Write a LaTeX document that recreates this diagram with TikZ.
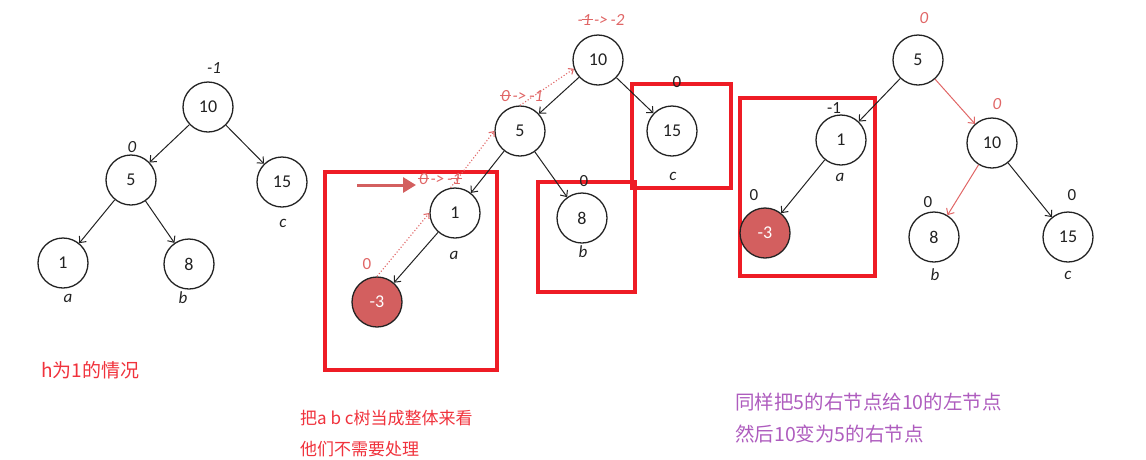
\documentclass[tikz,border=0pt]{standalone}
\usepackage{fontspec}
\setmainfont{Carlito}
\newfontfamily\cjk{Noto Sans CJK SC}
\usetikzlibrary{arrows.meta}
\definecolor{boxred}{HTML}{EE1C25}
\definecolor{lblred}{HTML}{E06666}
\definecolor{fillred}{HTML}{D35F5F}
\definecolor{txtred}{HTML}{F0323C}
\definecolor{purp}{HTML}{AE5CBE}
\definecolor{edge}{HTML}{222222}
\newcommand\strk[1]{\ooalign{#1\cr\hidewidth\rule[0.3em]{0.65em}{0.06em}\hidewidth\cr}}
\tikzset{
  tn/.style={circle,draw=edge,line width=1.3pt,minimum size=50pt,inner sep=0pt,font=\fontsize{18}{20}\selectfont,text=edge},
  hot/.style={tn,fill=fillred,text=white},
  ed/.style={draw=edge,line width=1pt,-{Straight Barb[length=5pt,width=9pt]}},
  edr/.style={draw=lblred,line width=1pt,-{Straight Barb[length=5pt,width=9pt]}},
  dotarr/.style={draw=lblred,line width=1.1pt,dotted,-{Straight Barb[length=4pt,width=7pt]}},
  lbl/.style={font=\fontsize{17}{19}\selectfont,text=edge,inner sep=0pt},
  ilbl/.style={font=\fontsize{17}{19}\selectfont\itshape,text=edge,inner sep=0pt},
  rlbl/.style={font=\fontsize{17}{19}\selectfont\itshape,text=lblred,inner sep=0pt},
  rbox/.style={draw=boxred,line width=3.5pt},
  cn/.style={font=\cjk\fontsize{17}{19}\selectfont,inner sep=0pt,anchor=west},
}
\begin{document}
\begin{tikzpicture}[x=1pt,y=-1pt]
\useasboundingbox (0,0) rectangle (1146,459);
% ---------- tree 1 ----------
\node[tn] (a10) at (208,107) {10};
\node[tn] (a5) at (131,180) {5};
\node[tn] (a15) at (282,182) {15};
\node[tn] (a1) at (63,263) {1};
\node[tn] (a8) at (189,264) {8};
\draw[ed] (a10) -- (a5);
\draw[ed] (a10) -- (a15);
\draw[ed] (a5) -- (a1);
\draw[ed] (a5) -- (a8);
\node[ilbl] (la10) at (214,68) {-1};
\node[ilbl] (la5) at (132,147) {0};
\node[ilbl] (lac) at (283,223) {c};
\node[ilbl] (laa) at (68,298) {a};
\node[ilbl] (lab) at (183,298) {b};
\node[cn,text=txtred,font=\cjk\fontsize{19}{21}\selectfont] (t1) at (41,370) {h为1的情况};
% ---------- tree 2 ----------
\draw[rbox] (325,172) rectangle (497,370);
\draw[rbox] (538,182) rectangle (635,292);
\draw[rbox] (632,84) rectangle (731,188);
\node[tn] (b10) at (598,60) {10};
\node[tn] (b5) at (520,131) {5};
\node[tn] (b15) at (672,131) {15};
\node[tn] (b1) at (455,213) {1};
\node[tn] (b8) at (582,218) {8};
\node[hot] (bm3) at (377,302) {-3};
\draw[ed] (b10) -- (b5);
\draw[ed] (b10) -- (b15);
\draw[ed] (b5) -- (b1);
\draw[ed] (b5) -- (b8);
\draw[ed] (b1) -- (bm3);
\draw[dotarr] (bm3.north) -- (b1.west);
\draw[dotarr] (b1.100) -- (b5.west);
\draw[dotarr] (b5.north) -- (b10.200);
\node[rlbl] (lb10) at (601,20) {-\strk{1}\,->\,-2};
\node[rlbl] (lb5) at (522,96) {\strk{0}\,->\,-1};
\node[rlbl] (lb1) at (440,179) {\strk{0}\,->\,-\strk{1}};
\node[lbl,text=lblred] (lbm3) at (367,264) {0};
\node[lbl] (lb15) at (677,82) {0};
\node[lbl] (lb8) at (584,181) {0};
\node[ilbl] (lbc) at (673,176) {c};
\node[ilbl] (lba) at (454,255) {a};
\node[ilbl] (lbb) at (583,252) {b};
\coordinate (ra) at (357,185);
\coordinate (rb) at (416,185);
\draw[draw=fillred,fill=fillred,line width=3pt,-{Triangle[length=13pt,width=15pt]}] (ra) -- (rb);
\node[cn,text=txtred] (t2) at (300,418) {把a b c树当成整体来看};
\node[cn,text=txtred] (t3) at (300,449) {他们不需要处理};
% ---------- tree 3 ----------
\draw[rbox] (740,98) rectangle (875,276);
\node[tn] (c5) at (918,60) {5};
\node[tn] (c1) at (841,140) {1};
\node[tn] (c10) at (992,143) {10};
\node[hot] (cm3) at (765,233) {-3};
\node[tn] (c8) at (934,237) {8};
\node[tn] (c15) at (1068,237) {15};
\draw[ed] (c5) -- (c1);
\draw[edr] (c5) -- (c10);
\draw[ed] (c1) -- (cm3);
\draw[edr] (c10) -- (c8);
\draw[ed] (c10) -- (c15);
\node[rlbl] (lc5) at (924,18) {0};
\node[lbl] (lc1) at (834,108) {-1};
\node[lbl] (lcm3) at (754,195) {0};
\node[ilbl] (lca) at (840,177) {a};
\node[rlbl] (lc10) at (997,104) {0};
\node[lbl] (lc8) at (928,202) {0};
\node[ilbl] (lcb) at (935,275) {b};
\node[lbl] (lc15) at (1072,195) {0};
\node[ilbl] (lcc) at (1068,275) {c};
\node[cn,text=purp,font=\cjk\fontsize{19.5}{21}\selectfont] (t4) at (735,402) {同样把5的右节点给10的左节点};
\node[cn,text=purp,font=\cjk\fontsize{19.5}{21}\selectfont] (t5) at (735,434) {然后10变为5的右节点};
\end{tikzpicture}
\end{document}
